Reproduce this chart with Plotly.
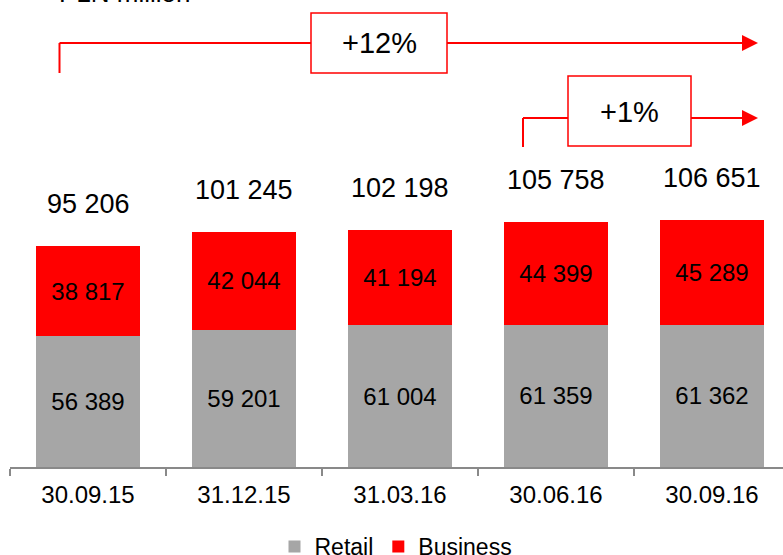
import plotly.graph_objects as go

categories = ["30.09.15", "31.12.15", "31.03.16", "30.06.16", "30.09.16"]
retail = [56389, 59201, 61004, 61359, 61362]
business = [38817, 42044, 41194, 44399, 45289]
totals = [95206, 101245, 102198, 105758, 106651]
unit_label = "PLN million"
growth_labels = ["+12%", "+1%"]

W, H = 783, 555
L, R, T, B = 10, 0, 0, 88
PW, PH = W - L - R, H - T - B
CAT_W = 156.0
FONT = "Arial, Liberation Sans, sans-serif"
RED = "#FF0000"
GRAY = "#A6A6A6"


def fmt(v):
    return f"{v:,}".replace(",", " ")


def px(p):
    return (p - L) / PW


def py(p):
    return (T + PH - p) / PH


fig = go.Figure()
fig.add_trace(go.Bar(
    name="Retail", x=categories, y=retail, marker_color=GRAY,
    text=[fmt(v) for v in retail], textposition="inside",
    insidetextanchor="middle", textfont=dict(size=24, color="black", family=FONT),
    marker_line_width=0,
))
fig.add_trace(go.Bar(
    name="Business", x=categories, y=business, marker_color=RED,
    text=[fmt(v) for v in business], textposition="inside",
    insidetextanchor="middle", textfont=dict(size=24, color="black", family=FONT),
    marker_line_width=0,
))

annotations = []
for c, t in zip(categories, totals):
    annotations.append(dict(
        x=c, y=t, xref="x", yref="y", text=fmt(t), showarrow=False,
        xanchor="center", yanchor="middle", yshift=42,
        font=dict(size=27, color="black", family=FONT),
    ))

annotations.append(dict(
    x=px(57), y=py(-7), xref="paper", yref="paper", text=unit_label,
    showarrow=False, xanchor="left", yanchor="middle",
    font=dict(size=26, color="black", family=FONT),
))

shapes = []
line_style = dict(color=RED, width=2)


def seg(x0, y0, x1, y1):
    shapes.append(dict(type="line", xref="paper", yref="paper",
                       x0=px(x0), y0=py(y0), x1=px(x1), y1=py(y1), line=line_style))


def box(x0, y0, x1, y1):
    shapes.append(dict(type="rect", xref="paper", yref="paper",
                       x0=px(x0), y0=py(y0), x1=px(x1), y1=py(y1),
                       line=dict(color=RED, width=1.5), fillcolor="white"))


def head(xb, yc, xt, hh):
    path = (f"M {px(xb)},{py(yc - hh)} L {px(xt)},{py(yc)} "
            f"L {px(xb)},{py(yc + hh)} Z")
    shapes.append(dict(type="path", xref="paper", yref="paper", path=path,
                       fillcolor=RED, line=dict(color=RED, width=0)))


# arrow 1 (+12%)
seg(59.5, 73, 59.5, 43)
seg(59.5, 43, 311, 43)
box(311, 13, 447, 73)
seg(447, 43, 743, 43)
head(742, 43, 758, 8)
annotations.append(dict(x=px(379), y=py(43), xref="paper", yref="paper",
                        text=growth_labels[0], showarrow=False,
                        xanchor="center", yanchor="middle",
                        font=dict(size=29, color="black", family=FONT)))
# arrow 2 (+1%)
seg(523, 147, 523, 118)
seg(523, 118, 568, 118)
box(568, 76, 691, 146)
seg(691, 118, 743, 118)
head(742, 118, 758, 8)
annotations.append(dict(x=px(629.5), y=py(112), xref="paper", yref="paper",
                        text=growth_labels[1], showarrow=False,
                        xanchor="center", yanchor="middle",
                        font=dict(size=29, color="black", family=FONT)))

fig.update_layout(
    width=W, height=H,
    margin=dict(l=L, r=R, t=T, b=B, pad=0, autoexpand=False),
    barmode="stack", bargap=1 / 3,
    plot_bgcolor="white", paper_bgcolor="white",
    font=dict(family=FONT, color="black"),
    showlegend=True,
    legend=dict(orientation="h", x=px(396), xanchor="center", y=py(525),
                yanchor="top", font=dict(size=23, family=FONT, color="black"),
                itemwidth=30, traceorder="normal", bgcolor="rgba(0,0,0,0)"),
    annotations=annotations,
    shapes=shapes,
)
fig.update_xaxes(
    type="category", range=[-0.5, -0.5 + PW / CAT_W],
    showline=True, linecolor="#898989", linewidth=2,
    ticks="outside", ticklen=7, tickwidth=1.5, tickcolor="#898989",
    tickson="boundaries", showgrid=False, ticklabelstandoff=5,
    tickfont=dict(size=24, color="black", family=FONT),
)
fig.update_yaxes(visible=False, range=[0, PH / 2.32 * 1000], showgrid=False)

fig.write_html("out.html")
